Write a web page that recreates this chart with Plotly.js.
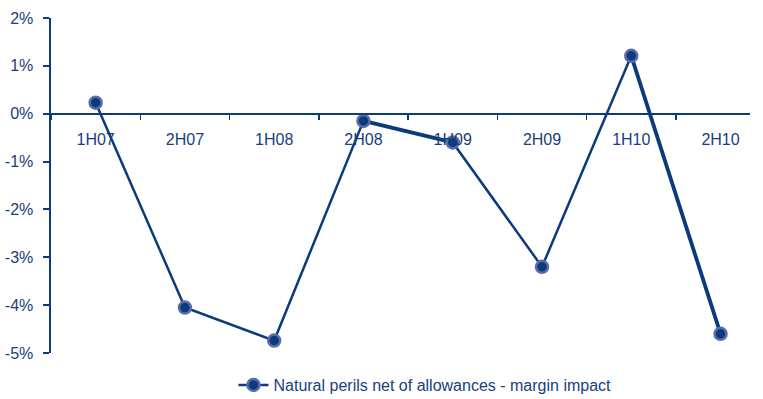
<!DOCTYPE html>
<html>
<head>
<meta charset="utf-8">
<script src="https://cdn.plot.ly/plotly-3.0.1.min.js"></script>
<style>
  html, body { margin: 0; padding: 0; background: #fff; }
  #chart { width: 763px; height: 399px; }
</style>
</head>
<body>
<div id="chart"></div>
<script>
// Half-year periods and the margin impact of natural perils (in %)
const periods = ["1H07", "2H07", "1H08", "2H08", "1H09", "2H09", "1H10", "2H10"];
const marginImpact = [0.23, -4.05, -4.74, -0.15, -0.6, -3.2, 1.21, -4.6];
const seriesName = "Natural perils net of allowances - margin impact";

// segments drawn with a heavier stroke (start index of each pair)
const heavySegments = [3, 6];

const yTickVals = [2, 1, 0, -1, -2, -3, -4, -5];
const yTickText = ["2%", "1%", "0%", "-1%", "-2%", "-3%", "-4%", "-5%"];

const navy = "#0b3b7c";
const textColor = "#17407e";

const heavyTraces = heavySegments.map(i => ({
  type: "scatter",
  mode: "lines",
  x: periods.slice(i, i + 2),
  y: marginImpact.slice(i, i + 2),
  line: { color: navy, width: 3.8 },
  showlegend: false,
  hoverinfo: "skip"
}));

const mainTrace = {
  type: "scatter",
  mode: "lines+markers",
  x: periods,
  y: marginImpact,
  name: seriesName,
  line: { color: navy, width: 2.5 },
  marker: {
    symbol: "circle",
    size: 12,
    color: navy,
    line: { color: "#5d6ca8", width: 2.5 }
  }
};

const yMin = -5, yMax = 2;

const layout = {
  width: 763,
  height: 399,
  margin: { l: 51, r: 13, t: 18, b: 46 },
  paper_bgcolor: "#ffffff",
  plot_bgcolor: "#ffffff",
  font: { family: "Liberation Sans, Arial, sans-serif", color: textColor, size: 16 },
  showlegend: true,
  legend: {
    orientation: "h",
    xref: "container",
    yref: "container",
    x: 0.306,
    xanchor: "left",
    y: 0.035,
    yanchor: "middle",
    font: { size: 16, color: textColor },
    bgcolor: "rgba(0,0,0,0)"
  },
  xaxis: {
    type: "category",
    categoryorder: "array",
    categoryarray: periods,
    range: [-0.5, 7.33],
    anchor: "free",
    position: (0 - yMin) / (yMax - yMin),
    showline: true,
    linecolor: navy,
    linewidth: 2,
    showgrid: false,
    zeroline: false,
    ticks: "outside",
    tickson: "boundaries",
    ticklen: 5,
    tickwidth: 1.5,
    tickcolor: navy,
    ticklabelstandoff: 11,
    tickfont: { size: 16, color: textColor },
    fixedrange: true
  },
  yaxis: {
    range: [yMin, yMax],
    tickvals: yTickVals,
    ticktext: yTickText,
    showline: true,
    linecolor: navy,
    linewidth: 2.5,
    showgrid: false,
    zeroline: false,
    ticks: "outside",
    ticklen: 6,
    tickwidth: 2,
    tickcolor: navy,
    ticklabelstandoff: 6,
    tickfont: { size: 16, color: textColor },
    fixedrange: true
  }
};

Plotly.newPlot("chart", [...heavyTraces, mainTrace], layout, { displayModeBar: false, staticPlot: true });
</script>
</body>
</html>
